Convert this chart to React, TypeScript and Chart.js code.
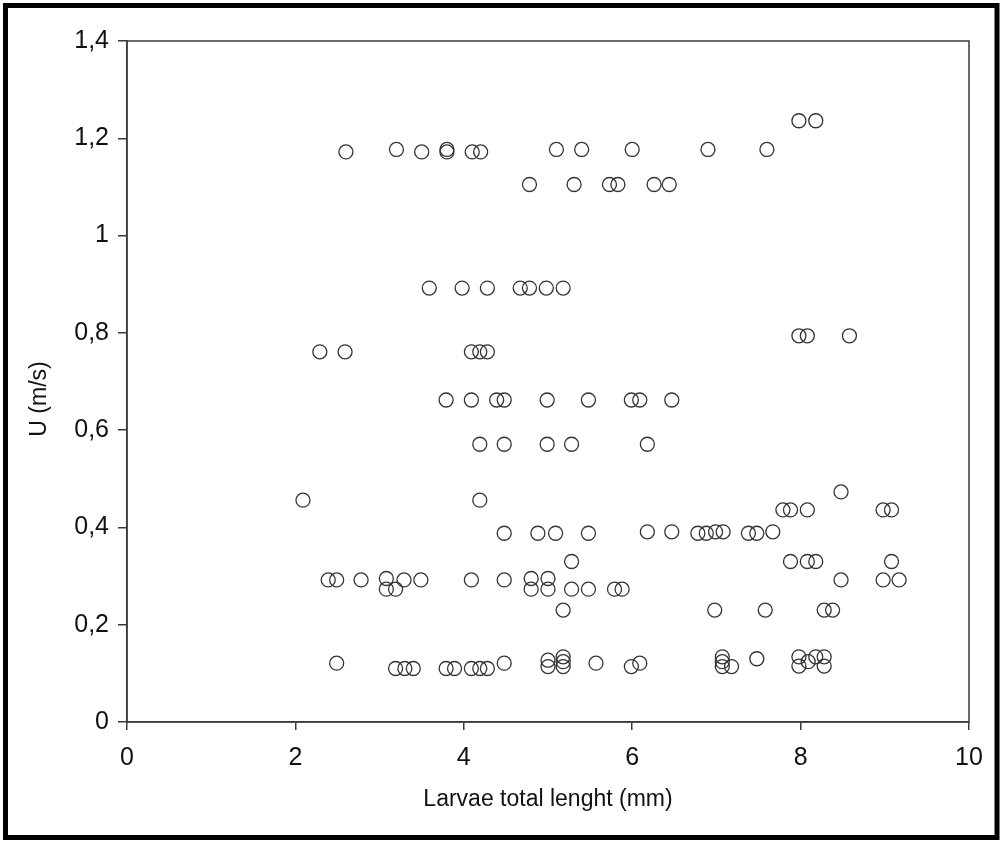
import { useEffect, useRef } from "react";
import { Chart, registerables } from "chart.js";

Chart.register(...registerables);

// Larvae total length (mm)
const lengthMm: number[] = [
  // ~1.17 row
  2.6, 3.2, 3.5, 3.8, 3.8, 4.1, 4.2, 5.1, 5.4, 6.0, 6.9, 7.6,
  // ~1.105 row
  4.78, 5.31, 5.73, 5.83, 6.26, 6.44,
  // ~1.235 row
  7.98, 8.18,
  // ~0.89 row
  3.59, 3.98, 4.28, 4.67, 4.78, 4.98, 5.18,
  // ~0.79 row
  7.98, 8.08, 8.58,
  // ~0.76 row
  2.29, 2.59, 4.09, 4.19, 4.28,
  // ~0.66 row
  3.79, 4.09, 4.39, 4.48, 4.99, 5.48, 5.99, 6.09, 6.47,
  // ~0.57 row
  4.19, 4.48, 4.99, 5.28, 6.18,
  // ~0.455 / 0.47
  2.09, 4.19, 8.48,
  // ~0.435 row
  7.79, 7.88, 8.08, 8.98, 9.08,
  // ~0.39 row
  4.48, 4.88, 5.09, 5.48, 6.18, 6.47, 6.78, 6.88, 6.99, 7.08, 7.38, 7.48, 7.67,
  // ~0.33 row
  5.28, 7.88, 8.08, 8.18, 9.08,
  // ~0.29 row
  2.39, 2.49, 2.78, 3.08, 3.29, 3.49, 4.09, 4.48, 4.8, 5.0, 8.48, 8.98, 9.17,
  // ~0.27 row
  3.08, 3.19, 4.8, 5.0, 5.28, 5.48, 5.79, 5.88,
  // ~0.23 row
  5.18, 6.98, 7.58, 8.28, 8.38,
  // ~0.11-0.13 rows
  2.49, 3.19, 3.3, 3.4, 3.79, 3.89, 4.09, 4.19, 4.28, 4.48,
  5.0, 5.0, 5.18, 5.18, 5.18, 5.57, 5.99, 6.09,
  7.07, 7.07, 7.07, 7.18, 7.48, 7.98, 7.98, 8.09, 8.18, 8.28, 8.28,
];

// U (m/s)
const speedMs: number[] = [
  1.172, 1.177, 1.172, 1.177, 1.172, 1.172, 1.172, 1.177, 1.177, 1.177, 1.177, 1.177,
  1.105, 1.105, 1.105, 1.105, 1.105, 1.105,
  1.236, 1.236,
  0.892, 0.892, 0.892, 0.892, 0.892, 0.892, 0.892,
  0.794, 0.794, 0.794,
  0.761, 0.761, 0.761, 0.761, 0.761,
  0.662, 0.662, 0.662, 0.662, 0.662, 0.662, 0.662, 0.662, 0.662,
  0.571, 0.571, 0.571, 0.571, 0.571,
  0.456, 0.456, 0.473,
  0.436, 0.436, 0.436, 0.436, 0.436,
  0.388, 0.388, 0.388, 0.388, 0.391, 0.391, 0.388, 0.388, 0.391, 0.391, 0.388, 0.388, 0.391,
  0.33, 0.33, 0.33, 0.33, 0.33,
  0.292, 0.292, 0.292, 0.295, 0.292, 0.292, 0.292, 0.292, 0.295, 0.295, 0.292, 0.292, 0.292,
  0.273, 0.273, 0.273, 0.273, 0.273, 0.273, 0.273, 0.273,
  0.23, 0.23, 0.23, 0.23, 0.23,
  0.121, 0.11, 0.11, 0.11, 0.11, 0.11, 0.11, 0.11, 0.11, 0.121,
  0.127, 0.114, 0.134, 0.124, 0.114, 0.121, 0.114, 0.121,
  0.134, 0.124, 0.114, 0.114, 0.13, 0.134, 0.115, 0.124, 0.134, 0.134, 0.115,
];

const xTicks: number[] = [0, 2, 4, 6, 8, 10];
const yTicks: number[] = [0, 0.2, 0.4, 0.6, 0.8, 1, 1.2, 1.4];

const xTitle = "Larvae total lenght (mm)";
const yTitle = "U (m/s)";

const FONT = "'Liberation Sans', Arial, sans-serif";
const AXIS = "#3a3a3a";
const TEXT = "#111";

export default function App() {
  const ref = useRef<HTMLCanvasElement>(null);

  useEffect(() => {
    document.body.style.margin = "0";
    const canvas = ref.current;
    if (!canvas) return;

    const framePlugin = {
      id: "framePlugin",
      afterDraw(chart: any) {
        const { ctx, chartArea } = chart;
        ctx.save();
        // plot box
        ctx.strokeStyle = AXIS;
        ctx.lineWidth = 1.5;
        ctx.strokeRect(
          chartArea.left,
          chartArea.top,
          chartArea.right - chartArea.left,
          chartArea.bottom - chartArea.top
        );
        // y title
        ctx.fillStyle = TEXT;
        ctx.font = `23px ${FONT}`;
        ctx.textAlign = "center";
        ctx.textBaseline = "middle";
        ctx.translate(40, 399);
        ctx.rotate(-Math.PI / 2);
        ctx.fillText(yTitle, 0, 0);
        ctx.restore();
        // outer black frame
        ctx.save();
        ctx.strokeStyle = "#000";
        ctx.lineWidth = 5;
        ctx.strokeRect(5.5, 5.5, 991.5, 832);
        ctx.restore();
      },
    };

    const chart = new Chart(canvas, {
      type: "scatter",
      data: {
        datasets: [
          {
            data: lengthMm.map((x, i) => ({ x, y: speedMs[i] })),
            pointStyle: "circle",
            pointRadius: 7,
            pointHoverRadius: 7,
            pointBorderWidth: 1.3,
            borderColor: "#333",
            backgroundColor: "rgba(0,0,0,0)",
          },
        ],
      },
      options: {
        responsive: false,
        animation: false,
        layout: { padding: { top: 41, right: 34, left: 0, bottom: 0 } },
        plugins: {
          legend: { display: false },
          tooltip: { enabled: false },
        },
        scales: {
          x: {
            type: "linear",
            min: 0,
            max: 10,
            afterBuildTicks: (s: any) => {
              s.ticks = xTicks.map((v) => ({ value: v }));
            },
            afterFit: (s: any) => {
              s.height = 120;
            },
            grid: {
              drawOnChartArea: false,
              drawTicks: true,
              tickLength: 8,
              color: AXIS,
              lineWidth: 1.5,
            },
            border: { color: AXIS, width: 1.5 },
            ticks: {
              padding: 13,
              color: TEXT,
              maxRotation: 0,
              font: { family: FONT, size: 25 },
              callback: (v: any) => String(v).replace(".", ","),
            },
            title: {
              display: true,
              text: xTitle,
              color: TEXT,
              font: { family: FONT, size: 23 },
              padding: { top: 0, bottom: 29 },
            },
          },
          y: {
            type: "linear",
            min: 0,
            max: 1.4,
            afterBuildTicks: (s: any) => {
              s.ticks = yTicks.map((v) => ({ value: v }));
            },
            afterFit: (s: any) => {
              s.width = 127;
            },
            grid: {
              drawOnChartArea: false,
              drawTicks: true,
              tickLength: 9,
              color: AXIS,
              lineWidth: 1.5,
            },
            border: { color: AXIS, width: 1.5 },
            ticks: {
              padding: 9,
              color: TEXT,
              font: { family: FONT, size: 25 },
              callback: (v: any) => String(v).replace(".", ","),
            },
          },
        },
      },
      plugins: [framePlugin],
    });

    return () => chart.destroy();
  }, []);

  return (
    <div style={{ width: 1003, height: 842, background: "#fff" }}>
      <canvas ref={ref} width={1003} height={842} style={{ display: "block" }} />
    </div>
  );
}
